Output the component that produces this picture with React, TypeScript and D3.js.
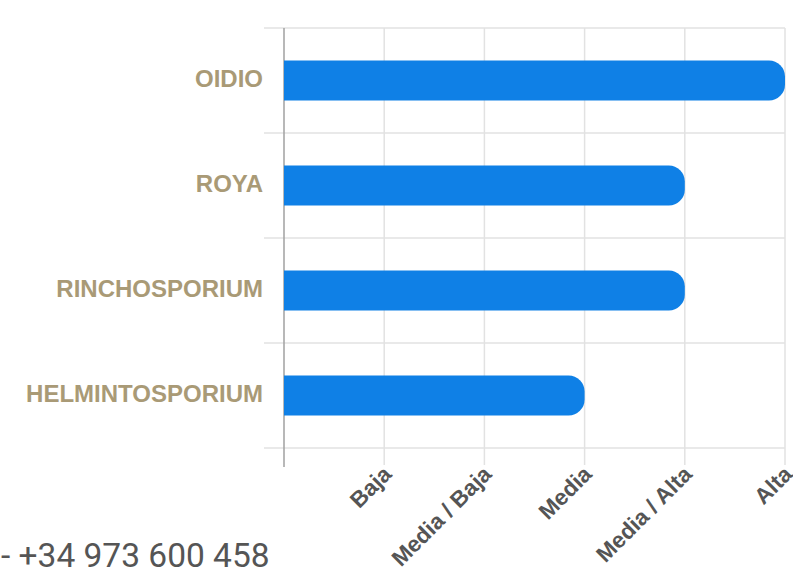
import { useEffect, useRef } from "react";
import * as d3 from "d3";

const diseases = ["OIDIO", "ROYA", "RINCHOSPORIUM", "HELMINTOSPORIUM"];
const levels = [5, 4, 4, 3];
const tickLabels = ["", "Baja", "Media / Baja", "Media", "Media / Alta", "Alta"];
const footer = "- +34 973 600 458";

const W = 793;
const H = 573;
const m = { top: 28, left: 284, right: 8, bottom: 125 };

const App = () => {
  const svgRef = useRef<SVGSVGElement>(null);

  useEffect(() => {
    const svg = d3.select(svgRef.current);
    svg.selectAll("*").remove();

    const x = d3.scaleLinear().domain([0, 5]).range([m.left, W - m.right]);
    const y = d3
      .scaleBand()
      .domain(diseases)
      .range([m.top, H - m.bottom])
      .paddingInner(0)
      .paddingOuter(0);

    // horizontal grid (band boundaries)
    const bounds = diseases.map((d) => y(d)).concat([H - m.bottom]);
    svg
      .append("g")
      .selectAll("line")
      .data(bounds)
      .join("line")
      .attr("x1", m.left - 20)
      .attr("x2", W - m.right)
      .attr("y1", (d) => d)
      .attr("y2", (d) => d)
      .attr("stroke", "#e2e2e2")
      .attr("stroke-width", 1.5);

    // vertical grid
    svg
      .append("g")
      .selectAll("line")
      .data(d3.range(1, 6))
      .join("line")
      .attr("x1", (d) => x(d))
      .attr("x2", (d) => x(d))
      .attr("y1", m.top)
      .attr("y2", H - m.bottom + 17)
      .attr("stroke", "#e2e2e2")
      .attr("stroke-width", 1.5);

    // left axis line
    svg
      .append("line")
      .attr("x1", x(0))
      .attr("x2", x(0))
      .attr("y1", m.top)
      .attr("y2", H - m.bottom + 19)
      .attr("stroke", "#a0a0a0")
      .attr("stroke-width", 1.5);

    // bars, rounded on the right end only
    const barH = 40;
    const r = 16;
    const barPath = (v: number, d: string) => {
      const x0 = x(0);
      const x1 = x(v);
      const y0 = y(d)! + y.bandwidth() / 2 - barH / 2;
      const p = d3.path();
      p.moveTo(x0, y0);
      p.lineTo(x1 - r, y0);
      p.arcTo(x1, y0, x1, y0 + r, r);
      p.lineTo(x1, y0 + barH - r);
      p.arcTo(x1, y0 + barH, x1 - r, y0 + barH, r);
      p.lineTo(x0, y0 + barH);
      p.closePath();
      return p.toString();
    };
    svg
      .append("g")
      .selectAll("path")
      .data(diseases)
      .join("path")
      .attr("d", (d, i) => barPath(levels[i], d))
      .attr("fill", "#0f80e6");

    // category labels
    svg
      .append("g")
      .selectAll("text")
      .data(diseases)
      .join("text")
      .attr("x", m.left - 21)
      .attr("y", (d) => y(d)! + y.bandwidth() / 2 - 2)
      .attr("dy", "0.36em")
      .attr("text-anchor", "end")
      .attr("font-family", "'Liberation Sans', Arial, sans-serif")
      .attr("font-weight", "bold")
      .attr("font-size", 24)
      .attr("fill", "#a99a76")
      .text((d) => d);

    // rotated tick labels
    svg
      .append("g")
      .selectAll("text")
      .data(d3.range(1, 6))
      .join("text")
      .attr(
        "transform",
        (d) => `translate(${x(d) + 3},${H - m.bottom + 22}) rotate(-45)`
      )
      .attr("text-anchor", "end")
      .attr("dy", "0.35em")
      .attr("font-family", "'Liberation Sans', Arial, sans-serif")
      .attr("font-weight", "bold")
      .attr("font-size", 22.5)
      .attr("fill", "#555")
      .text((d) => tickLabels[d]);

    // footer phone
    svg
      .append("text")
      .attr("x", 1)
      .attr("y", 567)
      .attr("font-family", "Roboto, sans-serif")
      .attr("font-size", 33.5)
      .attr("fill", "#555")
      .text(footer);
  }, []);

  return (
    <svg
      ref={svgRef}
      width={W}
      height={H}
      style={{ position: "absolute", left: 0, top: 0, background: "#fff" }}
    ></svg>
  );
};

export default App;
